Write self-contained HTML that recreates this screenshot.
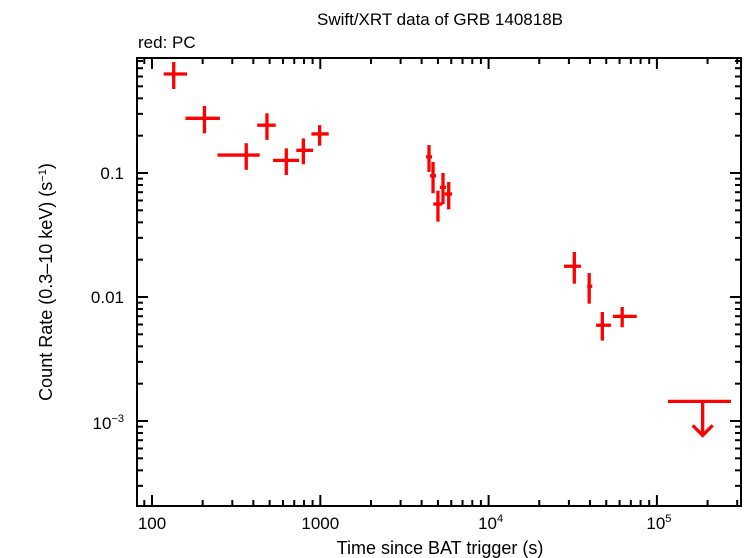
<!DOCTYPE html>
<html><head><meta charset="utf-8"><style>
body{margin:0;background:#fff;}
svg{display:block;font-family:"Liberation Sans",sans-serif;}
</style></head><body>
<svg id="chart" width="746" height="558" viewBox="0 0 746 558" xmlns="http://www.w3.org/2000/svg">
<rect width="746" height="558" fill="#fff"/>
<text x="440" y="25" font-size="17" text-anchor="middle">Swift/XRT data of GRB 140818B</text>
<text x="138" y="48" font-size="17">red: PC</text>
<text x="440" y="554" font-size="18" text-anchor="middle">Time since BAT trigger (s)</text>
<text transform="translate(52,282) rotate(-90)" font-size="18" text-anchor="middle">Count Rate (0.3–10 keV) (s<tspan dy="-6" font-size="11">−1</tspan><tspan dy="6">)</tspan></text>
<g id="ticks"></g>
<g id="marks"></g>
<rect x="137" y="58" width="604" height="448" fill="none" stroke="#000" stroke-width="2"/>
</svg>
<script>
const times=[134.6,205,363,482,628,793,991,4426,4677,5000,5358,5794,32300,39600,47400,62200];
const timeLo=[117.3,158,245,422,524,720,885,4250,4487,4690,5140,5485,28040,38560,43500,54800];
const timeHi=[161.5,253,436,543,747,906,1122,4613,4875,5309,5580,6070,35400,41300,53300,75900];
const rates=[0.629,0.276,0.1395,0.243,0.1264,0.1524,0.2065,0.135,0.0951,0.0562,0.0767,0.0677,0.0177,0.0122,0.00592,0.00698];
const rateLo=[0.476,0.209,0.106,0.185,0.0964,0.1175,0.166,0.102,0.0686,0.0405,0.056,0.0509,0.0128,0.00883,0.00445,0.0057];
const rateHi=[0.785,0.347,0.174,0.303,0.158,0.190,0.243,0.168,0.1227,0.0720,0.1,0.0846,0.0231,0.0156,0.00757,0.0083];
const ulTime=[187000];
const ulLo=[116400];
const ulHi=[275400];
const ulRate=[0.00144];
const xTickVals=[100,1000,10000,100000];
const xTickLabels=["100","1000","10^4","10^5"];
const yTickVals=[0.1,0.01,0.001];
const yTickLabels=["0.1","0.01","10^-3"];

const NS="http://www.w3.org/2000/svg";
function X(v){return 152+(Math.log10(v)-2)*168.3;}
function Y(v){return 173-(Math.log10(v)+1)*124;}
function mk(tag,attrs,parent){const e=document.createElementNS(NS,tag);for(const k in attrs)e.setAttribute(k,attrs[k]);parent.appendChild(e);return e;}
const tg=document.getElementById('ticks'), mg=document.getElementById('marks'), svg=document.getElementById('chart');
for(let d=1;d<=5;d++){for(let m=1;m<10;m++){const v=m*Math.pow(10,d);const px=X(v);if(px<137||px>741)continue;const len=m===1?11:6;
const t1=mk('line',{x1:px,x2:px,y1:506,y2:506-len,stroke:'#000','stroke-width':2},tg);


const t2=mk('line',{x1:px,x2:px,y1:58,y2:58+len,stroke:'#000','stroke-width':2},tg);

}}
for(let d=-4;d<=0;d++){for(let m=1;m<10;m++){const v=m*Math.pow(10,d);const py=Y(v);if(py<58||py>506)continue;const len=m===1?11:6;
const t1=mk('line',{x1:137,x2:137+len,y1:py,y2:py,stroke:'#000','stroke-width':2},tg);


const t2=mk('line',{x1:741,x2:741-len,y1:py,y2:py,stroke:'#000','stroke-width':2},tg);

}}
function lab(s,x,y,anchor,name){const t=mk('text',{x:x,y:y,'font-size':17,'text-anchor':anchor},svg);


const m=s.match(/^10\^(.*)$/);if(m){const a=document.createElementNS(NS,'tspan');a.textContent='10';t.appendChild(a);const b=document.createElementNS(NS,'tspan');b.setAttribute('dy','-7');b.setAttribute('font-size','11');b.textContent=m[1].replace('-','−');t.appendChild(b);}else t.textContent=s;}
xTickVals.forEach((v,i)=>lab(xTickLabels[i],X(v)+(i>1?2:0),529,'middle','x-tick-label'));
yTickVals.forEach((v,i)=>lab(yTickLabels[i],124,Y(v)+(i===2?8:6),'end','y-tick-label'));
const red='#ff0000';
times.forEach((t,i)=>{const g=mk('g',{},mg);


mk('line',{x1:X(timeLo[i]),x2:X(timeHi[i]),y1:Y(rates[i]),y2:Y(rates[i]),stroke:red,'stroke-width':3.3},g);
mk('line',{x1:X(t),x2:X(t),y1:Y(rateHi[i]),y2:Y(rateLo[i]),stroke:red,'stroke-width':3.3},g);});
ulTime.forEach((t,i)=>{const g=mk('g',{},mg);


const y=Y(ulRate[i]),x=X(t);
mk('line',{x1:X(ulLo[i]),x2:X(ulHi[i]),y1:y,y2:y,stroke:red,'stroke-width':3.3},g);
mk('line',{x1:x,x2:x,y1:y,y2:y+34,stroke:red,'stroke-width':3.3},g);
mk('polyline',{points:`${x-10},${y+24} ${x},${y+34} ${x+10},${y+24}`,fill:'none',stroke:red,'stroke-width':3.3},g);});
</script>
</body></html>
